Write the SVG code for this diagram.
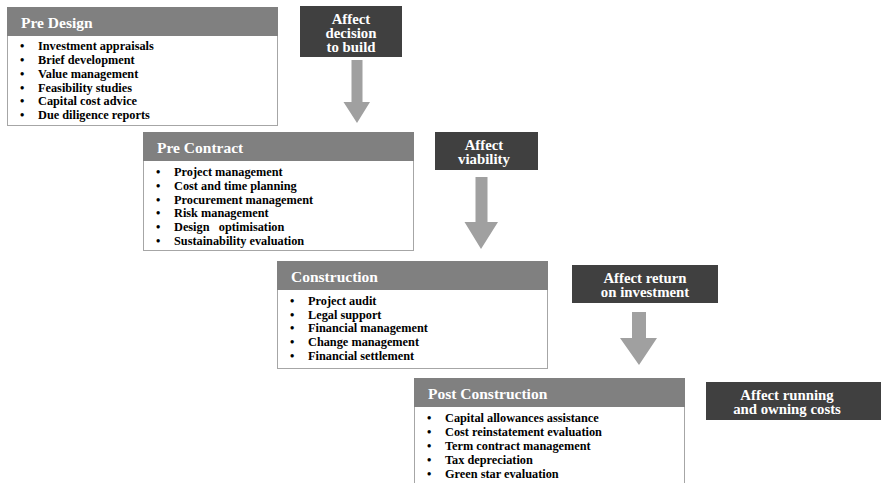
<svg xmlns="http://www.w3.org/2000/svg" width="881" height="483" viewBox="0 0 881 483">
  <style>
    .body { fill: #ffffff; stroke: #a6a6a6; stroke-width: 1; }
    .head { fill: #808080; stroke: #808080; stroke-width: 1; }
    .title { font-family: "Liberation Serif", "Times New Roman", "DejaVu Serif", serif; font-weight: bold; font-size: 15.5px; fill: #ffffff; }
    .item { font-family: "Liberation Serif", "Times New Roman", "DejaVu Serif", serif; font-weight: bold; font-size: 12.3px; fill: #000000; }
    .tag { fill: #404040; }
    .tagtext { font-family: "Liberation Serif", "Times New Roman", "DejaVu Serif", serif; font-weight: bold; font-size: 14.8px; fill: #ffffff; text-anchor: middle; }
    .arrow { fill: #a0a0a0; }
  </style>

  <!-- Stage: Pre Design -->
  <g id="pre-design">
    <rect class="body" x="7.5" y="7.5" width="270" height="118"/>
    <rect class="head" x="7.5" y="7.5" width="270" height="28"/>
    <text class="title" x="21" y="28">Pre Design</text>
    <g class="item">
      <text x="20" y="50">•</text><text x="38" y="50">Investment appraisals</text>
      <text x="20" y="64">•</text><text x="38" y="64">Brief development</text>
      <text x="20" y="78">•</text><text x="38" y="78">Value management</text>
      <text x="20" y="92">•</text><text x="38" y="92">Feasibility studies</text>
      <text x="20" y="105">•</text><text x="38" y="105">Capital cost advice</text>
      <text x="20" y="119">•</text><text x="38" y="119">Due diligence reports</text>
    </g>
  </g>

  <!-- Stage: Pre Contract -->
  <g id="pre-contract">
    <rect class="body" x="143.5" y="132.5" width="270" height="118"/>
    <rect class="head" x="143.5" y="132.5" width="270" height="28"/>
    <text class="title" x="157" y="153">Pre Contract</text>
    <g class="item">
      <text x="156" y="176">•</text><text x="174" y="176">Project management</text>
      <text x="156" y="190">•</text><text x="174" y="190">Cost and time planning</text>
      <text x="156" y="204">•</text><text x="174" y="204">Procurement management</text>
      <text x="156" y="217">•</text><text x="174" y="217">Risk management</text>
      <text x="156" y="231">•</text><text x="174" y="231" xml:space="preserve">Design   optimisation</text>
      <text x="156" y="245">•</text><text x="174" y="245">Sustainability evaluation</text>
    </g>
  </g>

  <!-- Stage: Construction -->
  <g id="construction">
    <rect class="body" x="277.5" y="261.5" width="270" height="107"/>
    <rect class="head" x="277.5" y="261.5" width="270" height="28"/>
    <text class="title" x="291" y="282">Construction</text>
    <g class="item">
      <text x="290" y="305">•</text><text x="308" y="305">Project audit</text>
      <text x="290" y="319">•</text><text x="308" y="319">Legal support</text>
      <text x="290" y="332">•</text><text x="308" y="332">Financial management</text>
      <text x="290" y="346">•</text><text x="308" y="346">Change management</text>
      <text x="290" y="360">•</text><text x="308" y="360">Financial settlement</text>
    </g>
  </g>

  <!-- Stage: Post Construction -->
  <g id="post-construction">
    <rect class="body" x="414.5" y="378.5" width="270" height="115"/>
    <rect class="head" x="414.5" y="378.5" width="270" height="28"/>
    <text class="title" x="428" y="399">Post Construction</text>
    <g class="item">
      <text x="427" y="422">•</text><text x="445" y="422">Capital allowances assistance</text>
      <text x="427" y="436">•</text><text x="445" y="436">Cost reinstatement evaluation</text>
      <text x="427" y="450">•</text><text x="445" y="450">Term contract management</text>
      <text x="427" y="464">•</text><text x="445" y="464">Tax depreciation</text>
      <text x="427" y="478">•</text><text x="445" y="478">Green star evaluation</text>
    </g>
  </g>

  <!-- Impact labels -->
  <g id="affect-decision">
    <rect class="tag" x="300" y="6" width="102" height="51"/>
    <text class="tagtext" x="351" y="23.5">Affect</text>
    <text class="tagtext" x="351" y="37.5">decision</text>
    <text class="tagtext" x="351" y="51.5">to build</text>
  </g>
  <g id="affect-viability">
    <rect class="tag" x="435" y="132" width="103" height="38"/>
    <text class="tagtext" x="484" y="149.5">Affect</text>
    <text class="tagtext" x="484" y="163.5">viability</text>
  </g>
  <g id="affect-return">
    <rect class="tag" x="572" y="265" width="146" height="38"/>
    <text class="tagtext" x="645" y="282.5">Affect return</text>
    <text class="tagtext" x="645" y="296.5">on investment</text>
  </g>
  <g id="affect-running">
    <rect class="tag" x="706" y="382" width="175" height="38"/>
    <text class="tagtext" x="787" y="399.5">Affect running</text>
    <text class="tagtext" x="787" y="413.5">and owning costs</text>
  </g>

  <!-- Downward flow arrows -->
  <g id="connectors">
    <path class="arrow" d="M351.5,60 H362.5 V102 H370 L357,123 L343.5,102 H351.5 Z"/>
    <path class="arrow" d="M475.5,177 H487.5 V222 H498 L481,249 L464.5,222 H475.5 Z"/>
    <path class="arrow" d="M632,312 H646 V338 H657 L639,365 L620,338 H632 Z"/>
  </g>
</svg>
